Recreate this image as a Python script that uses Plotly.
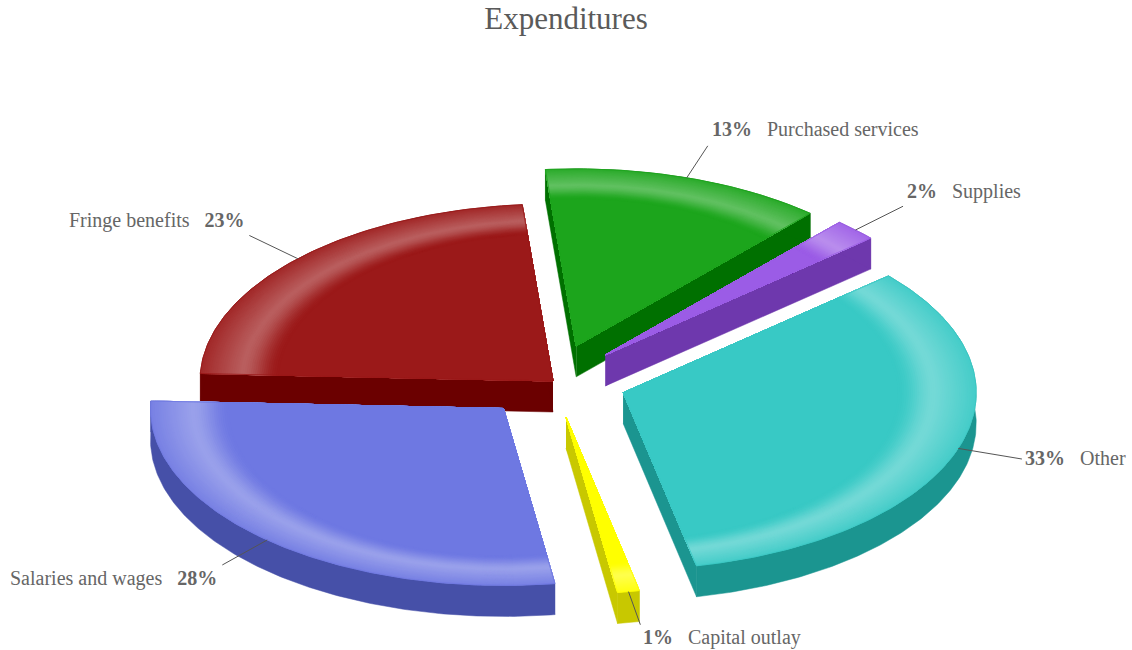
import numpy as np
import plotly.graph_objects as go

# ---- data ----
categories = ["Purchased services", "Supplies", "Other", "Capital outlay", "Salaries and wages", "Fringe benefits"]
shares = [12.92, 2.0, 33.14, 1.0, 28.0, 22.94]
exploded = [1, 1, 1, 1, 1, 0]

# ---- styling ----
top_colors = ["#1ca51c", "#9b5ce6", "#38c9c5", "#ffff00", "#6e78e2", "#9b1919"]
side_colors = ["#007000", "#6e38ad", "#1b9590", "#c8c800", "#4650a8", "#6b0000"]
draw_order = [5, 0, 1, 2, 4, 3]
label_side = {0: ("left", 2, 17), 1: ("left", 2, 15), 2: ("left", 1, 1), 3: ("left", 1, -13), 4: ("right", -3, -14), 5: ("right", -2, 15)}

W, H = 1132, 650
CX, CY = 553.0, 381.0
RX, RY = 353.0, 177.0
DEPTH = 31.0
PULL = 74.0
START = -5.0
LINE_EXT = 1.19
Y_BAND = 0.77
FONT = "Liberation Serif"


def rgb(h):
    return np.array([int(h[i:i + 2], 16) for i in (1, 3, 5)], float)


def mix_white(h, t):
    c = rgb(h) * (1 - t) + 255 * t
    return "rgb(%d,%d,%d)" % tuple(np.round(c))


def glow(r):
    if r <= 0.78:
        return 0.0
    if r <= 0.885:
        x = (r - 0.78) / 0.105
        return 0.30 * x * x * (3 - 2 * x)
    x = (r - 0.885) / 0.115
    return 0.30 - 0.23 * x


def rim(a, r=1.0):
    rad = np.radians(a)
    return r * RX * np.sin(rad), -r * RY * np.cos(rad)


def band(a, r):
    # point on the ray of angle a that lies on the inner bevel ellipse
    rad = np.radians(a)
    ry = 1 - (1 - r) * Y_BAND
    t = 1 / np.sqrt((np.sin(rad) / r) ** 2 + (np.cos(rad) / ry) ** 2)
    return t * RX * np.sin(rad), -t * RY * np.cos(rad)


angles = []
a0 = START
for s in shares:
    a1 = a0 + s * 3.6
    angles.append((a0, a1))
    a0 = a1

fig = go.Figure()


def poly(xs, ys, fill, line=None, width=0.0):
    fig.add_trace(go.Scatter(
        x=list(xs), y=list(ys), mode="lines", fill="toself", fillcolor=fill,
        line=dict(color=line or fill, width=width), hoverinfo="skip", showlegend=False))


for i in draw_order:
    a0, a1 = angles[i]
    m = (a0 + a1) / 2
    p = PULL * exploded[i]
    ax = CX + p * np.sin(np.radians(m))
    ay = CY - p * 0.5 * np.cos(np.radians(m))
    th = np.linspace(a0, a1, max(8, int((a1 - a0) * 1.5)))
    ex, ey = rim(th)
    # radial and outer walls
    for a in (a0, a1):
        rx_, ry_ = rim(a)
        poly([ax, ax + rx_, ax + rx_, ax],
             [ay, ay + ry_, ay + ry_ + DEPTH, ay + DEPTH], side_colors[i], width=0.5)
    poly(np.r_[ax + ex, (ax + ex)[::-1]], np.r_[ay + ey, (ay + ey + DEPTH)[::-1]], side_colors[i], width=0.5)
    # top face, painted from the rim inward
    for r in np.arange(1.0, 0.775, -0.006):
        ex_r, ey_r = band(th, r)
        poly(np.r_[ax, ax + ex_r, ax], np.r_[ay, ay + ey_r, ay], mix_white(top_colors[i], glow(r)), width=0.5)
    ex_r, ey_r = rim(th, 1.0)
    fig.add_trace(go.Scatter(
        x=np.r_[ax, ax + ex_r, ax], y=np.r_[ay, ay + ey_r, ay], mode="lines",
        line=dict(color=top_colors[i], width=1), hoverinfo="skip", showlegend=False, opacity=0.8))

annotations = []
for i, cat in enumerate(categories):
    a0, a1 = angles[i]
    m = (a0 + a1) / 2
    p = PULL * exploded[i]
    ax = CX + p * np.sin(np.radians(m))
    ay = CY - p * 0.5 * np.cos(np.radians(m))
    x0, y0 = rim(m, 1.0)
    x1, y1 = rim(m, LINE_EXT)
    fig.add_trace(go.Scatter(
        x=[ax + x0, ax + x1], y=[ay + y0, ay + y1], mode="lines",
        line=dict(color="#555555", width=1), hoverinfo="skip", showlegend=False))
    side, dx, up = label_side[i]
    pct = "<b>%.0f%%</b>" % shares[i]
    text = pct + "\u00a0\u00a0\u00a0" + cat if side == "left" else cat + "\u00a0\u00a0\u00a0" + pct
    annotations.append(dict(
        x=ax + x1, y=ay + y1, xref="x", yref="y", text=text, showarrow=False,
        xanchor=side, yanchor="middle", yshift=up, xshift=dx,
        font=dict(family=FONT, size=20, color="#666666")))

fig.update_layout(
    width=W, height=H, margin=dict(l=0, r=0, t=0, b=0),
    paper_bgcolor="white", plot_bgcolor="white", showlegend=False,
    title=dict(text="Expenditures", x=0.5, xanchor="center", xref="paper",
               y=0.972, yref="container", yanchor="middle",
               font=dict(family=FONT, size=31, color="#5a5a5a")),
    xaxis=dict(range=[0, W], visible=False, fixedrange=True),
    yaxis=dict(range=[H, 0], visible=False, fixedrange=True),
    annotations=annotations,
)
fig.write_html("out.html", config=dict(displayModeBar=False),
               post_script="document.body.style.margin='0';")
